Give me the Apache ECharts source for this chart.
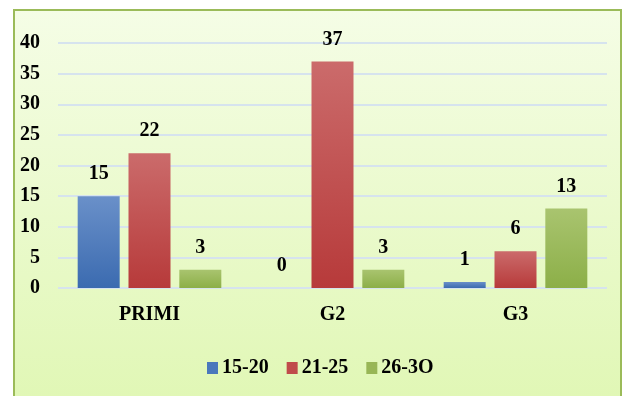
<!DOCTYPE html>
<html>
<head>
<meta charset="utf-8">
<script src="https://cdn.jsdelivr.net/npm/echarts@6/dist/echarts.min.js"></script>
<style>
  html, body { margin: 0; padding: 0; background: #fff; }
  #chart { width: 623px; height: 396px; }
</style>
</head>
<body>
<div id="chart"></div>
<script>
// 数据
var categories = ['PRIMI', 'G2', 'G3']
var seriesNames = ['15-20', '21-25', '26-3O']
var age1520 = [15, 0, 1]
var age2125 = [22, 37, 6]
var age2630 = [3, 3, 13]

var chart = echarts.init(document.getElementById('chart'))

function grad(top, bottom) {
    return new echarts.graphic.LinearGradient(0, 0, 0, 1, [
        { offset: 0, color: top },
        { offset: 1, color: bottom },
    ])
}

var fontFam = '"Liberation Serif", "Times New Roman", serif'
var labelStyle = {
    show: true,
    position: 'top',
    distance: 12,
    color: '#000',
    fontFamily: fontFam,
    fontWeight: 'bold',
    fontSize: 20,
}

var colors = [
    grad('#6a90c9', '#3b6bb0'),
    grad('#cb6b6b', '#b73a3a'),
    grad('#a9c46f', '#8caf48'),
]
var legendColors = ['#4a78bc', '#c04b4b', '#98b656']

var seriesData = [age1520, age2125, age2630].map(function (d, i) {
    return {
        name: seriesNames[i],
        type: 'bar',
        data: d,
        barWidth: 42,
        barGap: '21%',
        itemStyle: { color: colors[i] },
        label: labelStyle,
    }
})

var option = {
    animation: false,
    graphic: [
        {
            type: 'rect',
            z: -10,
            shape: { x: 14, y: 10, width: 607, height: 400 },
            style: {
                fill: grad('#f5fde6', '#e0f7b4'),
                stroke: '#9bbb59',
                lineWidth: 2,
            },
        },
    ],
    legend: {
        top: 353,
        left: 202,
        icon: 'rect',
        itemWidth: 11,
        itemHeight: 12,
        itemGap: 18,
        data: seriesNames.map(function (n, i) {
            return { name: n, itemStyle: { color: legendColors[i] } }
        }),
        textStyle: {
            color: '#000',
            fontFamily: fontFam,
            fontWeight: 'bold',
            fontSize: 20,
            padding: [0, 0, 0, -1],
        },
    },
    grid: {
        left: 58,
        right: 16,
        top: 43,
        bottom: 108,
    },
    xAxis: {
        type: 'category',
        data: categories,
        axisTick: { show: false },
        axisLine: { show: false },
        axisLabel: {
            margin: 17,
            color: '#000',
            fontFamily: fontFam,
            fontWeight: 'bold',
            fontSize: 20,
        },
    },
    yAxis: {
        type: 'value',
        min: 0,
        max: 40,
        interval: 5,
        axisTick: { show: false },
        axisLine: { show: false },
        axisLabel: {
            margin: 18,
            color: '#000',
            fontFamily: fontFam,
            fontWeight: 'bold',
            fontSize: 20,
        },
        splitLine: {
            lineStyle: { color: '#d6e3ee', width: 2 },
        },
    },
    series: seriesData,
}
chart.setOption(option)
</script>
</body>
</html>
